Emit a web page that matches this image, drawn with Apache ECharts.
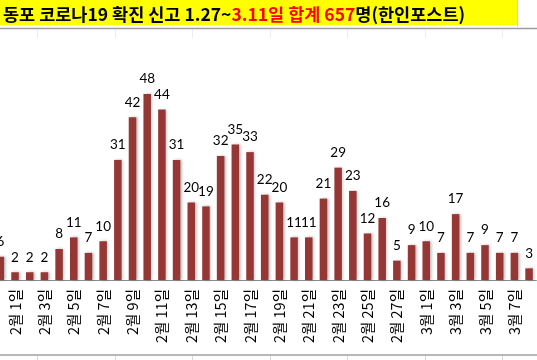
<!DOCTYPE html>
<html>
<head>
<meta charset="utf-8">
<script src="https://cdn.jsdelivr.net/npm/echarts@6/dist/echarts.min.js"></script>
<style>
html,body{margin:0;padding:0;background:#fff;}
#chart{width:537px;height:360px;}
</style>
</head>
<body>
<div id="chart"></div>
<script>
// ---- data (visible part of the original chart: 1/31 .. 3/8) ----
var categories = [
  '1월 31일',
  '2월 1일','2월 2일','2월 3일','2월 4일','2월 5일','2월 6일','2월 7일',
  '2월 8일','2월 9일','2월 10일','2월 11일','2월 12일','2월 13일','2월 14일',
  '2월 15일','2월 16일','2월 17일','2월 18일','2월 19일','2월 20일','2월 21일',
  '2월 22일','2월 23일','2월 24일','2월 25일','2월 26일','2월 27일','2월 28일',
  '3월 1일','3월 2일','3월 3일','3월 4일','3월 5일','3월 6일','3월 7일','3월 8일'
];
var cases = [
  6,
  2,2,2,8,11,7,10,
  31,42,48,44,31,20,19,
  32,35,33,22,20,11,11,
  21,29,23,12,16,5,9,
  10,7,17,7,9,7,7,3
];
var titleBlack1 = '동포 코로나19 확진 신고 1.27~';
var titleRed = '3.11일 합계 657';
var titleBlack2 = '명(한인포스트)';

var chart = echarts.init(document.getElementById('chart'), null, {renderer: 'canvas'});

var cellXs = [37, 115, 192, 270, 347, 425, 502];
var gfx = [
  {type: 'rect', shape: {x: 0, y: 0, width: 517, height: 25}, style: {fill: '#ffff00'}, z: -10},
  {type: 'line', shape: {x1: 517.5, y1: 0, x2: 517.5, y2: 27}, style: {stroke: '#d4d4d4', lineWidth: 1}, z: -10},
  {type: 'line', shape: {x1: 0, y1: 28.5, x2: 537, y2: 28.5}, style: {stroke: '#9c9c9c', lineWidth: 1.5}, z: -10},
  {type: 'line', shape: {x1: 0, y1: 355, x2: 537, y2: 355}, style: {stroke: '#a0a0a0', lineWidth: 1.5}, z: -10}
];
cellXs.forEach(function (x) {
  gfx.push({type: 'line', shape: {x1: x + 0.5, y1: 30, x2: x + 0.5, y2: 38}, style: {stroke: '#ececec', lineWidth: 1}, z: -10});
  gfx.push({type: 'line', shape: {x1: x + 0.5, y1: 356, x2: x + 0.5, y2: 360}, style: {stroke: '#d8d8d8', lineWidth: 1}, z: -10});
});

chart.setOption({
  animation: false,
  backgroundColor: '#ffffff',
  title: {
    text: '{b|' + titleBlack1 + '}{r|' + titleRed + '}{b|' + titleBlack2 + '}',
    left: -2,
    top: 1,
    textStyle: {
      rich: {
        b: {color: '#000000', fontSize: 17.5, fontWeight: 'bold', fontFamily: '"Noto Sans CJK KR", sans-serif'},
        r: {color: '#ff0000', fontSize: 17.5, fontWeight: 'bold', fontFamily: '"Noto Sans CJK KR", sans-serif'}
      }
    }
  },
  graphic: gfx,
  grid: {
    left: -7,
    right: 0.6,
    top: 47.5,
    bottom: 80,
    containLabel: false,
    outerBoundsMode: 'none'
  },
  xAxis: {
    type: 'category',
    data: categories,
    axisLine: {show: true, lineStyle: {color: '#8c8c8c', width: 1}},
    axisTick: {show: false},
    axisLabel: {
      interval: function (idx) { return idx % 2 === 1; },
      rotate: 90,
      margin: 9,
      color: '#000000',
      fontSize: 14.5,
      fontFamily: '"Noto Sans CJK KR", sans-serif'
    }
  },
  yAxis: {
    type: 'value',
    min: 0,
    max: 60,
    show: false,
    splitLine: {show: false}
  },
  series: [{
    type: 'bar',
    data: cases,
    barWidth: 7.5,
    itemStyle: {
      color: '#953735',
      shadowColor: 'rgba(0,0,0,0.28)',
      shadowBlur: 3,
      shadowOffsetX: 1.5,
      shadowOffsetY: 0
    },
    label: {
      show: true,
      position: 'top',
      distance: 8,
      color: '#000000',
      fontSize: 13.5,
      fontFamily: 'Lato, sans-serif'
    }
  }]
});
</script>
</body>
</html>
